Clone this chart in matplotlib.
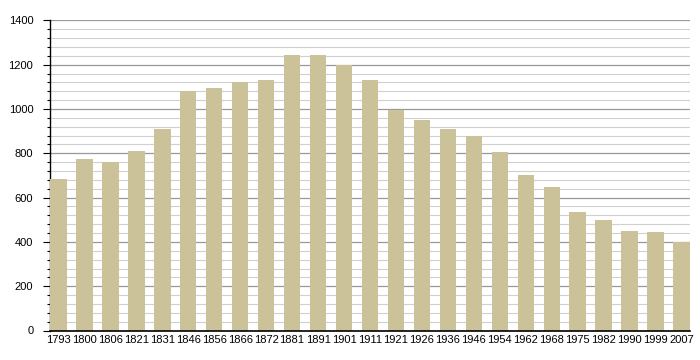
import matplotlib.pyplot as plt
from matplotlib.ticker import MultipleLocator

plt.rcParams['font.family'] = ['Liberation Sans', 'DejaVu Sans']

# Population by census year
years = ["1793", "1800", "1806", "1821", "1831", "1846", "1856", "1866", "1872",
         "1881", "1891", "1901", "1911", "1921", "1926", "1936", "1946", "1954",
         "1962", "1968", "1975", "1982", "1990", "1999", "2007"]
population = [685, 775, 762, 812, 911, 1080, 1096, 1123, 1132,
              1245, 1245, 1197, 1132, 995, 950, 909, 880, 807,
              704, 649, 536, 500, 450, 446, 399]

fig = plt.figure(figsize=(7, 3.6), dpi=100)
ax = fig.add_axes([50 / 700, 29.5 / 360, 640 / 700, 310 / 360])

bar_w = 0.64
x = range(len(years))
ax.bar(x, population, width=bar_w, color="#cbc29a", zorder=3)

ax.set_xlim(-bar_w / 2, len(years) - 1 + bar_w / 2)
ax.set_ylim(0, 1400)
ax.set_xticks(list(x))
ax.set_xticklabels(years, fontsize=8)
ax.tick_params(axis="x", length=0, pad=3)

ax.yaxis.set_major_locator(MultipleLocator(200))
ax.yaxis.set_minor_locator(MultipleLocator(40))
ax.tick_params(axis="y", which="major", length=5, width=0.8, labelsize=8, pad=7)
ax.tick_params(axis="y", which="minor", length=2.5, width=0.8)

ax.grid(axis="y", which="major", color="#999999", linewidth=0.9, zorder=0)
ax.grid(axis="y", which="minor", color="#d0d0d0", linewidth=0.8, zorder=0)
ax.axhline(1400, color="#999999", linewidth=1.2, zorder=1)

for side in ["top", "right"]:
    ax.spines[side].set_visible(False)
ax.spines["left"].set_linewidth(1.0)
ax.spines["bottom"].set_linewidth(1.2)
ax.spines["bottom"].set_zorder(4)

fig.savefig("out.png", dpi=100)
